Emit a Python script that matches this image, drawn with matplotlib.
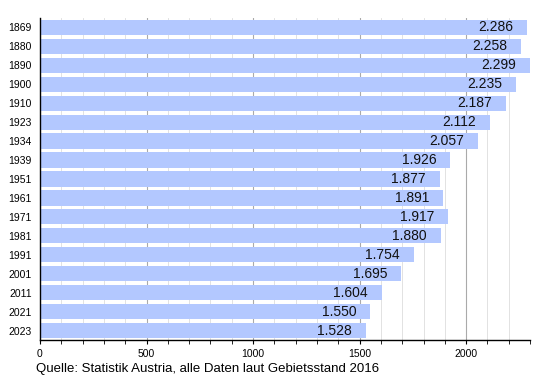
import matplotlib.pyplot as plt
from matplotlib.ticker import MultipleLocator

plt.rcParams["font.family"] = ["Liberation Sans", "DejaVu Sans"]

years = ["1869", "1880", "1890", "1900", "1910", "1923", "1934", "1939", "1951",
         "1961", "1971", "1981", "1991", "2001", "2011", "2021", "2023"]
population = [2286, 2258, 2299, 2235, 2187, 2112, 2057, 1926, 1877,
              1891, 1917, 1880, 1754, 1695, 1604, 1550, 1528]

fig = plt.figure(figsize=(5.5, 3.8), dpi=100)
ax = fig.add_axes([0.0727, 0.105, 0.891, 0.848])

pos = list(range(len(years)))
ax.barh(pos, population, height=0.8, color="#b3c8ff", zorder=2)
for p, v in zip(pos, population):
    label = f"{v:,}".replace(",", ".")
    ax.annotate(label, (v, p), xytext=(-10, 0), textcoords="offset points",
                ha="right", va="center", fontsize=10, color="#111111", zorder=3)

ax.set_xlim(0, 2300)
ax.set_ylim(len(years) - 0.5, -0.5)
ax.set_yticks(pos)
ax.set_yticklabels(years, fontsize=7.5)
ax.xaxis.set_major_locator(MultipleLocator(500))
ax.xaxis.set_minor_locator(MultipleLocator(100))
ax.tick_params(axis="x", labelsize=7.5, length=3, width=0.8, direction="out")
ax.tick_params(axis="x", which="minor", length=3, width=0.6)
ax.tick_params(axis="y", length=0, pad=6)

ax.grid(axis="x", which="major", color="#aaaaaa", linewidth=0.8, zorder=0)
ax.grid(axis="x", which="minor", color="#dddddd", linewidth=0.6, zorder=0)
ax.set_axisbelow(True)

for side in ["top", "right"]:
    ax.spines[side].set_visible(False)
ax.spines["left"].set_linewidth(1.0)
ax.spines["bottom"].set_linewidth(1.0)

fig.text(0.065, 0.03, "Quelle: Statistik Austria, alle Daten laut Gebietsstand 2016",
         fontsize=9.5, ha="left", va="center")

fig.savefig("out.png", dpi=100)
